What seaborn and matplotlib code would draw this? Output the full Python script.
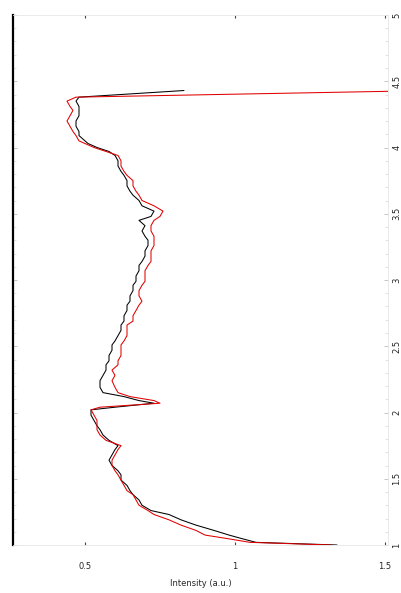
import numpy as np
import pandas as pd
import matplotlib
matplotlib.use("Agg")
import matplotlib.pyplot as plt
from matplotlib.ticker import MultipleLocator, FuncFormatter
import seaborn as sns

# Spectral position (vertical axis) and the two measured profiles
position = [
    1.00, 1.02, 1.05, 1.075, 1.11, 1.15, 1.19, 1.23, 1.26, 1.30,
    1.34, 1.38, 1.41, 1.45, 1.49, 1.53, 1.56, 1.60, 1.64, 1.68,
    1.72, 1.75, 1.79, 1.83, 1.87, 1.90, 1.94, 1.98, 2.02, 2.04,
    2.07, 2.09, 2.12, 2.15, 2.19, 2.24, 2.28, 2.32, 2.36, 2.39,
    2.43, 2.47, 2.51, 2.54, 2.58, 2.62, 2.66, 2.69, 2.73, 2.77,
    2.81, 2.84, 2.88, 2.92, 2.96, 2.99, 3.03, 3.07, 3.11, 3.14,
    3.18, 3.22, 3.26, 3.30, 3.33, 3.37, 3.41, 3.45, 3.48, 3.52,
    3.56, 3.60, 3.64, 3.67, 3.71, 3.75, 3.79, 3.82, 3.86, 3.90,
    3.94, 3.97, 4.00, 4.03, 4.05, 4.09, 4.12, 4.16, 4.20, 4.24,
    4.28, 4.31, 4.35, 4.38, 4.43,
]
black_series = [
    1.34, 1.07, 1.02, 0.98, 0.93, 0.87, 0.82, 0.78, 0.72, 0.69,
    0.68, 0.66, 0.65, 0.64, 0.62, 0.62, 0.61, 0.59, 0.58, 0.59,
    0.60, 0.61, 0.58, 0.56, 0.55, 0.54, 0.53, 0.52, 0.52, 0.60,
    0.73, 0.68, 0.63, 0.56, 0.55, 0.55, 0.56, 0.57, 0.57, 0.58,
    0.58, 0.59, 0.59, 0.60, 0.61, 0.62, 0.62, 0.63, 0.63, 0.64,
    0.64, 0.65, 0.65, 0.66, 0.66, 0.67, 0.67, 0.68, 0.68, 0.69,
    0.70, 0.70, 0.71, 0.71, 0.70, 0.69, 0.70, 0.68, 0.72, 0.73,
    0.69, 0.68, 0.66, 0.65, 0.64, 0.64, 0.63, 0.62, 0.61, 0.61,
    0.60, 0.58, 0.54, 0.51, 0.50, 0.48, 0.48, 0.47, 0.47, 0.48,
    0.48, 0.48, 0.47, 0.48, 0.83,
]
red_series = [
    1.32, 1.05, 0.97, 0.90, 0.87, 0.82, 0.78, 0.73, 0.71, 0.68,
    0.67, 0.66, 0.64, 0.63, 0.62, 0.61, 0.60, 0.59, 0.59, 0.60,
    0.61, 0.62, 0.57, 0.55, 0.54, 0.54, 0.54, 0.53, 0.52, 0.55,
    0.75, 0.73, 0.65, 0.61, 0.60, 0.59, 0.60, 0.59, 0.61, 0.61,
    0.62, 0.62, 0.62, 0.63, 0.64, 0.64, 0.64, 0.66, 0.66, 0.67,
    0.68, 0.69, 0.68, 0.68, 0.69, 0.70, 0.70, 0.70, 0.71, 0.72,
    0.72, 0.72, 0.73, 0.73, 0.73, 0.72, 0.72, 0.73, 0.75, 0.76,
    0.73, 0.69, 0.68, 0.67, 0.66, 0.66, 0.64, 0.63, 0.62, 0.62,
    0.61, 0.57, 0.53, 0.50, 0.48, 0.47, 0.46, 0.45, 0.44, 0.45,
    0.46, 0.45, 0.44, 0.47, 1.65,
]
series_names = ["black", "red"]
series_colors = ["#000000", "#e00000"]

x_ticks = [0.5, 1.0, 1.5]
y_ticks = [1, 1.5, 2, 2.5, 3, 3.5, 4, 4.5, 5]
x_label = "Intensity (a.u.)"

df = pd.concat([
    pd.DataFrame({"position": position, "intensity": black_series, "series": series_names[0]}),
    pd.DataFrame({"position": position, "intensity": red_series, "series": series_names[1]}),
], ignore_index=True)

sns.set_style("white")
plt.rcParams["font.family"] = ["DejaVu Sans"]

fig = plt.figure(figsize=(4.01, 5.93), dpi=100)
ax = fig.add_axes([13 / 401, 48 / 593, 375 / 401, 530 / 593])

sns.lineplot(
    data=df, x="intensity", y="position", hue="series",
    palette=dict(zip(series_names, series_colors)),
    orient="y", estimator=None, linewidth=0.75, legend=False, ax=ax,
)

ax.set_xlim(0.26, 1.51)
ax.set_ylim(1.0, 5.0)

ax.set_xticks(x_ticks)
ax.set_yticks(y_ticks)
ax.yaxis.set_minor_locator(MultipleLocator(0.1))
fmt = FuncFormatter(lambda v, p: f"{v:g}")
ax.xaxis.set_major_formatter(fmt)
ax.yaxis.set_major_formatter(fmt)

ax.yaxis.tick_right()
ax.tick_params(axis="y", which="both", direction="in", left=True, right=True,
               labelleft=False, labelright=True, labelsize=6, pad=3,
               labelrotation=90, color="#bbbbbb", length=3, width=0.6)
ax.tick_params(axis="y", which="minor", length=2, color="#dddddd")
for lab in ax.get_yticklabels():
    lab.set_verticalalignment("center")
ax.tick_params(axis="x", which="both", direction="in", top=True, bottom=True,
               labelsize=6, pad=12, color="#444444", length=2, width=0.8)

ax.set_xlabel(x_label, fontsize=6, labelpad=6)
ax.set_ylabel("")

for side in ["top", "right", "bottom"]:
    ax.spines[side].set_color("#e6e6e6")
    ax.spines[side].set_linewidth(0.6)
ax.spines["left"].set_color("black")
ax.spines["left"].set_linewidth(1.6)

fig.savefig("out.png", dpi=100, facecolor="white")
